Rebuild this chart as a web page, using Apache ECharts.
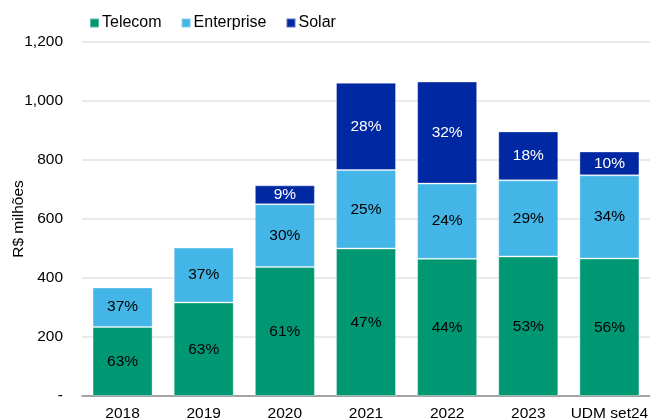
<!DOCTYPE html>
<html>
<head>
<meta charset="utf-8">
<script src="https://cdn.jsdelivr.net/npm/echarts@6/dist/echarts.min.js"></script>
<style>
  html, body { margin: 0; padding: 0; background: #fff; }
  #chart { width: 650px; height: 420px; }
</style>
</head>
<body>
<div id="chart"></div>
<script>
  // dados (R$ milhões)
  const categories = ['2018', '2019', '2020', '2021', '2022', '2023', 'UDM set24'];
  const telecom = [234, 317, 437, 500, 465, 473, 466];
  const enterprise = [134, 186, 213, 266, 255, 258, 282];
  const solar = [null, null, 64, 296, 346, 166, 81];
  // rótulos de participação (%)
  const telecomPct = ['63%', '63%', '61%', '47%', '44%', '53%', '56%'];
  const enterprisePct = ['37%', '37%', '30%', '25%', '24%', '29%', '34%'];
  const solarPct = ['', '', '9%', '28%', '32%', '18%', '10%'];

  const font = 'Liberation Sans, Arial, sans-serif';
  const chart = echarts.init(document.getElementById('chart'));

  function makeSeries (name, values, pct, color, textColor) {
    return {
      name: name,
      type: 'bar',
      stack: 'total',
      barWidth: '74%',
      data: values,
      itemStyle: { color: color, borderColor: 'rgba(255,255,255,0.35)', borderWidth: 1 },
      label: {
        show: true,
        position: 'inside',
        formatter: p => pct[p.dataIndex],
        color: textColor,
        fontSize: 15.5,
        fontFamily: font
      },
      emphasis: { disabled: true }
    };
  }

  chart.setOption({
    animation: false,
    textStyle: { fontFamily: font },
    legend: {
      top: 10,
      left: 84,
      itemWidth: 9,
      itemHeight: 9,
      itemGap: 19,
      icon: 'rect',
      textStyle: { fontSize: 16, color: '#000', padding: [0, 0, 0, -2] },
      data: ['Telecom', 'Enterprise', 'Solar']
    },
    grid: { left: 82, right: 0, top: 42, bottom: 24, outerBoundsMode: 'none' },
    xAxis: {
      type: 'category',
      data: categories,
      axisTick: { show: false },
      axisLine: { lineStyle: { color: '#8c8c8c', width: 1.5 } },
      axisLabel: { color: '#000', fontSize: 15.5, margin: 10, interval: 0 }
    },
    yAxis: {
      type: 'value',
      min: 0,
      max: 1200,
      interval: 200,
      name: 'R$ milhões',
      nameLocation: 'middle',
      nameGap: 55,
      nameMoveOverlap: false,
      nameTextStyle: { fontSize: 15.5, color: '#000' },
      axisLine: { show: false },
      axisTick: { show: false },
      axisLabel: {
        color: '#000',
        fontSize: 15.5,
        margin: 19,
        formatter: v => v === 0 ? '-' : v.toLocaleString('en-US')
      },
      splitLine: { lineStyle: { color: '#e3e3e3', width: 1.5 } }
    },
    series: [
      makeSeries('Telecom', telecom, telecomPct, '#009873', '#000'),
      makeSeries('Enterprise', enterprise, enterprisePct, '#43B5E6', '#000'),
      makeSeries('Solar', solar, solarPct, '#0028A2', '#fff')
    ]
  });
</script>
</body>
</html>
